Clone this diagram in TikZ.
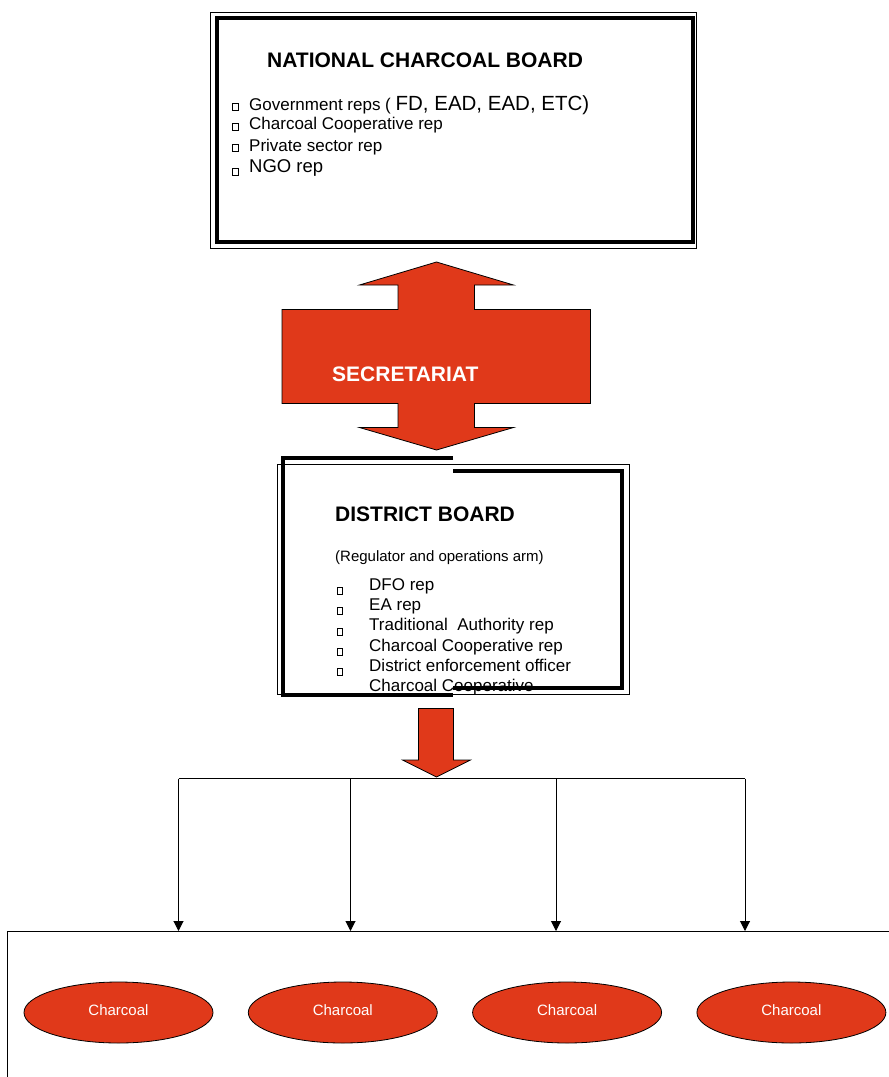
\documentclass[tikz,border=0pt]{standalone}
\usepackage{fontspec}
\setmainfont{Liberation Sans}
\usepackage{tikz}
\usetikzlibrary{positioning,arrows.meta,shapes.geometric}
\definecolor{myred}{RGB}{224,57,26}

\begin{document}
\begin{tikzpicture}[x=1pt,y=-1pt,inner sep=0pt]
\tikzstyle{thickline}=[draw=black, line width=4pt]
\tikzstyle{thinline}=[draw=black, line width=1pt]
\tikzstyle{heading}=[anchor=base west, font=\bfseries\fontsize{21}{24}\selectfont]
\tikzstyle{member}=[anchor=base west, font=\fontsize{17}{20}\selectfont]
\tikzstyle{bul}=[rectangle, draw=black, line width=0.9pt, minimum width=5.5pt, minimum height=7pt, anchor=south west]
\tikzstyle{bigarrow}=[fill=myred, draw=black, line width=0.8pt]
\tikzstyle{connect}=[-{Triangle[length=10pt,width=10pt]}, line width=1pt]
\tikzstyle{pit}=[ellipse, fill=myred, draw=black, line width=0.8pt, minimum width=189pt, minimum height=61pt, text=white, font=\fontsize{15}{18}\selectfont]
\useasboundingbox (0,0) rectangle (889,1077);
\clip (0,0) rectangle (889,1077);
% national board
\node[heading] (ncbtitle) at (267,67) {NATIONAL CHARCOAL BOARD};
\node[member] (ncb1) at (249,110) {Government reps ( {\fontsize{20.5}{24}\selectfont FD, EAD, EAD, ETC)}};
\node[member] (ncb2) at (249,129) {Charcoal Cooperative rep};
\node[member] (ncb3) at (249,151) {Private sector rep};
\node[member,font=\fontsize{18.5}{22}\selectfont] (ncb4) at (249,172) {NGO rep};
\foreach \y [count=\i] in {111,131,152,176} \node[bul] (nbul\i) at (232.3,\y) {};
\node[thickline, minimum width=475.5pt, minimum height=224pt, anchor=north west] (ncb) at (215,16) {};
\draw[thinline] (210,12) rectangle (696.5,248);
% secretariat
\draw[bigarrow] (436.5,262) -- (513.5,285) -- (474.5,285) -- (474.5,309.5) -- (590.5,309.5)
  -- (590.5,403.5) -- (474.5,403.5) -- (474.5,427.5) -- (513.5,427.5) -- (436.5,450)
  -- (359.5,427.5) -- (398,427.5) -- (398,403.5) -- (282,403.5) -- (282,309.5)
  -- (398,309.5) -- (398,285) -- (359.5,285) -- cycle;
\node[heading, text=white] (sec) at (332,381) {SECRETARIAT};
% district board
\node[heading] (dbtitle) at (335,521) {DISTRICT BOARD};
\node[anchor=base west, font=\fontsize{15}{18}\selectfont] (dbsub) at (335,561) {(Regulator and operations arm)};
\foreach \t [count=\i] in {DFO rep, EA rep, Traditional\ \ Authority rep, Charcoal Cooperative rep, District enforcement officer, Charcoal Cooperative}
  \node[member] (db\i) at (369,{590.5+20.2*(\i-1)}) {\t};
\foreach \i in {1,...,5} \node[bul] (dbbul\i) at (336.5,{595+20.2*(\i-1)}) {};
\draw[thinline] (277.5,464.5) rectangle (629,694);
\draw[thickline] (453,458) -- (283,458) -- (283,695) -- (453,695);
\draw[thickline] (453,471) -- (622,471) -- (622,688) -- (453,688);
\draw[bigarrow] (418.5,708.5) -- (453.5,708.5) -- (453.5,760) -- (470.5,760) -- (436.5,777)
  -- (402.5,760) -- (418.5,760) -- cycle;
% charcoal producers
\node[draw, line width=1pt, minimum width=900pt, minimum height=200pt, anchor=north west] (field) at (7,931) {};
\coordinate (bl) at (178.5,778.5);
\coordinate (br) at (745,778.5);
\draw[line width=1pt] (bl) -- (br);
\foreach \x [count=\i] in {178.5,350.5,556,745} {
  \coordinate (drop\i) at (\x,778.5);
  \draw[connect] (drop\i) -- (drop\i |- field.north);
}
\node[pit] (pit1) at (118.5,1012.5) {\raisebox{4pt}{Charcoal}};
\node[pit, right=34.5pt of pit1] (pit2) {\raisebox{4pt}{Charcoal}};
\node[pit, right=34.5pt of pit2] (pit3) {\raisebox{4pt}{Charcoal}};
\node[pit, right=34.5pt of pit3] (pit4) {\raisebox{4pt}{Charcoal}};
\end{tikzpicture}
\end{document}
